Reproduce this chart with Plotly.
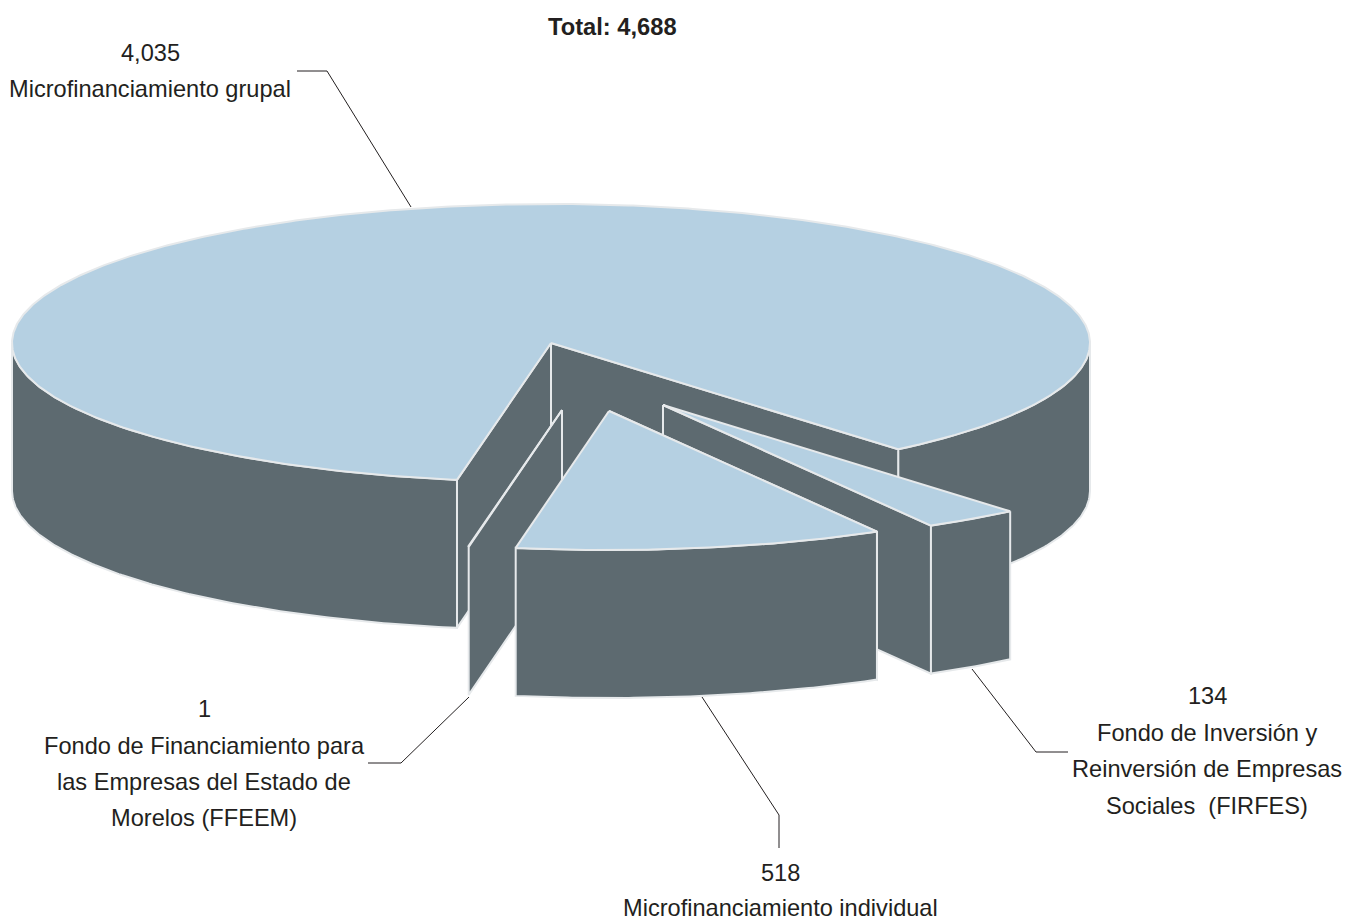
import math
import plotly.graph_objects as go

# Data
categories = ["Fondo de Inversión y Reinversión de Empresas Sociales (FIRFES)",
              "Microfinanciamiento individual",
              "Fondo de Financiamiento para las Empresas del Estado de Morelos (FFEEM)",
              "Microfinanciamiento grupal"]
values = [134, 518, 1, 4035]
total_label = "Total: 4,688"

# Projection of the pie
CX, CY, RX, RY, DEPTH = 551, 343, 539, 139, 148
START_ANGLE = 49.9
offset_x = [112, 58, 11, 0]
offset_y = [62, 68, 67, 0]

TOP = "#B5D0E2"
SIDE = "#5D6A70"
EDGE = "#E6E9EB"
TEXT = "#231F20"

fig = go.Figure()


def poly(xs, ys, color):
    fig.add_trace(go.Scatter(x=xs + xs[:1], y=ys + ys[:1], mode="lines", fill="toself",
                             fillcolor=color, line=dict(color=EDGE, width=2),
                             hoverinfo="skip", showlegend=False))


def arc(a, b, cx, cy):
    n = max(2, int(abs(b - a) * 2))
    ts = [math.radians(a + (b - a) * i / n) for i in range(n + 1)]
    return [cx + RX * math.cos(t) for t in ts], [cy + RY * math.sin(t) for t in ts]


def wall(a, cx, cy):
    x = cx + RX * math.cos(math.radians(a))
    y = cy + RY * math.sin(math.radians(a))
    poly([cx, x, x, cx], [cy, y, y + DEPTH, cy + DEPTH], SIDE)


def outer(a, b, cx, cy):
    xs, ys = arc(a, b, cx, cy)
    poly(xs + xs[::-1], ys + [y + DEPTH for y in ys[::-1]], SIDE)


def top(a, b, cx, cy):
    xs, ys = arc(a, b, cx, cy)
    poly([cx] + xs, [cy] + ys, TOP)


# slice angles derived from values
total = sum(values)
angles = [START_ANGLE]
for v in values:
    angles.append(angles[-1] + v / total * 360)
spans = [(angles[i], angles[i + 1], CX + offset_x[i], CY + offset_y[i]) for i in range(4)]

# main slice
a, b, cx, cy = spans[3]
outer(a, 180, cx, cy)
outer(360, b, cx, cy)
wall(a, cx, cy)
wall(b, cx, cy)
top(a, b, cx, cy)

# FFEEM
a, b, cx, cy = spans[2]
wall(a, cx, cy)
top(a, b, cx, cy)

# FIRFES
a, b, cx, cy = spans[0]
wall(b, cx, cy)
outer(a, b, cx, cy)
top(a, b, cx, cy)

# individual
a, b, cx, cy = spans[1]
wall(a, cx, cy)
outer(a, b, cx, cy)
top(a, b, cx, cy)

# Leader lines
leader_x = [[297, 327, 411], [368, 401, 469], [1068, 1036, 972], [779, 779, 702]]
leader_y = [[71, 71, 207], [763, 763, 697], [752, 752, 669], [848, 815, 697]]
for lx, ly in zip(leader_x, leader_y):
    fig.add_trace(go.Scatter(x=lx, y=ly, mode="lines", line=dict(color=TEXT, width=1),
                             hoverinfo="skip", showlegend=False))

# Labels
label_lines = ["4,035", "Microfinanciamiento grupal",
               "1", "Fondo de Financiamiento para", "las Empresas del Estado de", "Morelos (FFEEM)",
               "134", "Fondo de Inversión y", "Reinversión de Empresas", "Sociales  (FIRFES)",
               "518", "Microfinanciamiento individual"]
label_x = [150, 150, 204, 204, 204, 204, 1207, 1207, 1207, 1207, 780, 780]
label_y = [53, 89, 709, 746, 782, 818, 696, 733, 769, 806, 873, 908]
annotations = [dict(x=x, y=y, text=t.replace("  ", "&nbsp; "), showarrow=False, xanchor="center", yanchor="middle",
                    xref="x", yref="y", font=dict(family="Liberation Sans", size=23.6, color=TEXT))
               for t, x, y in zip(label_lines, label_x, label_y)]
annotations.append(dict(x=612, y=27, text="<b>%s</b>" % total_label, showarrow=False, xanchor="center",
                        yanchor="middle", xref="x", yref="y",
                        font=dict(family="Liberation Sans", size=23.7, color=TEXT)))

fig.update_layout(width=1346, height=922, margin=dict(l=0, r=0, t=0, b=0),
                  paper_bgcolor="white", plot_bgcolor="white", showlegend=False,
                  xaxis=dict(range=[0, 1346], visible=False, fixedrange=True),
                  yaxis=dict(range=[922, 0], visible=False, fixedrange=True),
                  annotations=annotations)

fig.write_html("out.html", post_script="document.body.style.margin='0';document.body.style.overflow='hidden';",
               config={"displayModeBar": False})
